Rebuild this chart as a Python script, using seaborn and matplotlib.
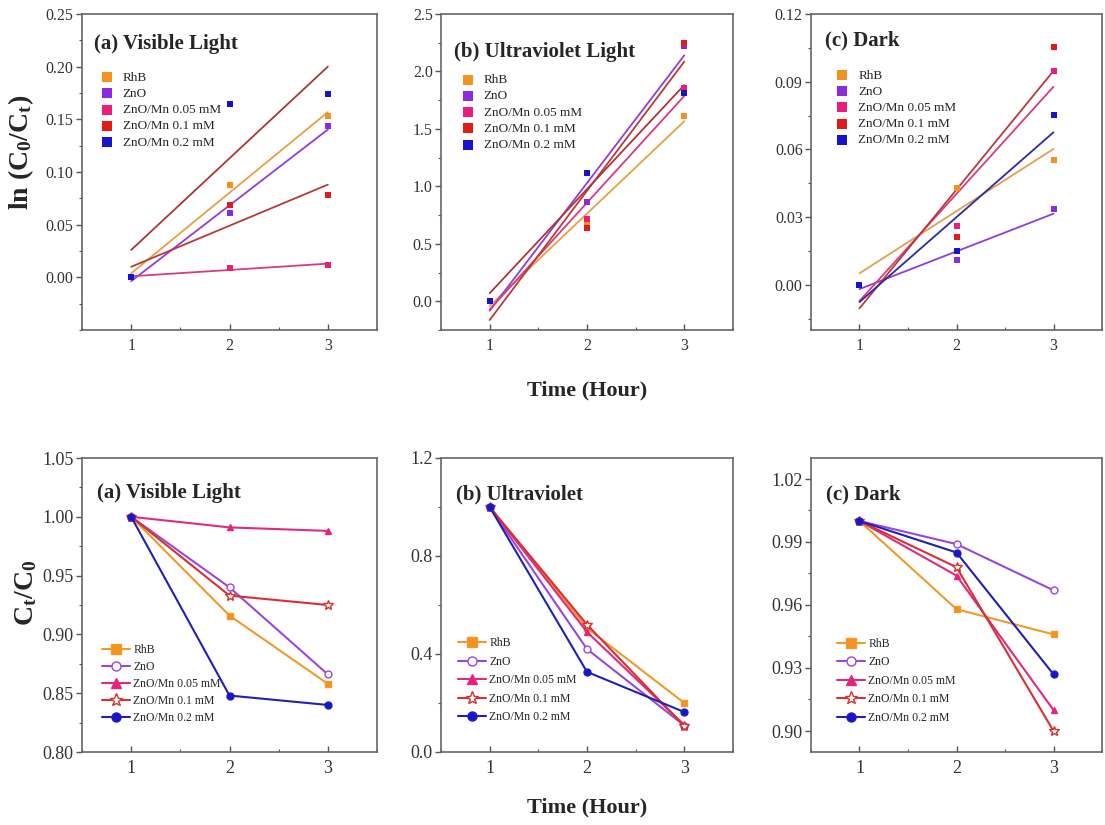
import numpy as np
import seaborn as sns
import matplotlib.pyplot as plt
from matplotlib.ticker import MultipleLocator, FormatStrFormatter

# Data
hours = [1, 2, 3]
series = ["RhB", "ZnO", "ZnO/Mn 0.05 mM", "ZnO/Mn 0.1 mM", "ZnO/Mn 0.2 mM"]

# ln(C0/Ct) - top row
ln_visible = [[0, 0.088, 0.153], [0, 0.061, 0.144], [0, 0.009, 0.012],
              [0, 0.069, 0.078], [0, 0.165, 0.174]]
ln_uv = [[0, 0.681, 1.608], [0, 0.865, 2.223], [0, 0.714, 1.859],
         [0, 0.635, 2.249], [0, 1.116, 1.812]]
ln_dark = [[0, 0.0429, 0.0551], [0, 0.0111, 0.0334], [0, 0.0261, 0.0949],
           [0, 0.0214, 0.1052], [0, 0.0148, 0.0752]]

# Ct/C0 - bottom row
ratio_visible = [[1, 0.916, 0.858], [1, 0.940, 0.866], [1, 0.991, 0.988],
                 [1, 0.933, 0.925], [1, 0.848, 0.840]]
ratio_uv = [[1, 0.506, 0.200], [1, 0.420, 0.108], [1, 0.490, 0.110],
            [1, 0.520, 0.105], [1, 0.327, 0.163]]
ratio_dark = [[1, 0.958, 0.946], [1, 0.989, 0.967], [1, 0.974, 0.910],
              [1, 0.978, 0.900], [1, 0.985, 0.927]]

# Styling
marker_colors = ["#F5921E", "#8A2BE2", "#EC1C7C", "#E31A1C", "#1515CF"]
fit_colors_ab = ["#E8A040", "#8E3FD6", "#DA3A80", "#B83A3A", "#B03434"]
fit_colors_c = ["#E0A050", "#8E3FD6", "#DA3A80", "#B83A3A", "#2A2AA8"]
line_colors = ["#F09A2A", "#9A48D8", "#E02A80", "#D83030", "#2020B8"]
marker_styles = [
    dict(marker="s", markerfacecolor="#F5921E"),
    dict(marker="o", markerfacecolor="white"),
    dict(marker="^", markerfacecolor="#EC1C7C"),
    dict(marker="*", markerfacecolor="white", markersize=7.5),
    dict(marker="o", markerfacecolor="#1515CF"),
]

sns.set_theme(style="ticks")
plt.rcParams["font.family"] = ["Liberation Serif", "DejaVu Serif"]
plt.rcParams["mathtext.fontset"] = "custom"
plt.rcParams["mathtext.rm"] = "Liberation Serif"
plt.rcParams["mathtext.bf"] = "Liberation Serif:bold"
plt.rcParams["mathtext.it"] = "Liberation Serif:italic"

W, H = 1105, 825
fig = plt.figure(figsize=(W / 100, H / 100), dpi=100)


def add_axes(left, right, top, bottom):
    return fig.add_axes([left / W, 1 - bottom / H, (right - left) / W, (bottom - top) / H])


cols = [(82, 377), (441, 733), (811, 1102)]


def style_axes(ax, ylim, yticks, fmt, labelsize):
    ax.set_xlim(0.5, 3.5)
    ax.set_ylim(*ylim)
    ax.set_xticks(hours)
    ax.xaxis.set_minor_locator(MultipleLocator(0.5))
    ax.set_yticks(yticks)
    ax.yaxis.set_minor_locator(MultipleLocator((yticks[1] - yticks[0]) / 2))
    ax.yaxis.set_major_formatter(FormatStrFormatter(fmt))
    ax.tick_params(axis="y", which="major", direction="out", length=4, width=1,
                   color="#555555", labelcolor="#333333", labelsize=labelsize, pad=2)
    ax.tick_params(axis="y", which="minor", direction="out", length=2, width=0.8, color="#555555")
    ax.tick_params(axis="x", which="major", direction="in", length=4, width=1,
                   color="#555555", labelcolor="#333333", labelsize=labelsize, pad=6)
    ax.tick_params(axis="x", which="minor", direction="in", length=2, width=0.8, color="#555555")
    for sp in ax.spines.values():
        sp.set_visible(True)
        sp.set_color("#666666")
        sp.set_linewidth(1.2)
    ax.set_xlabel("")
    ax.set_ylabel("")


# ---- Top row: ln(C0/Ct) with linear fits ----
top_panels = [
    (ln_visible, "(a) Visible Light", (-0.05, 0.25), np.arange(0, 0.26, 0.05), "%.2f",
     fit_colors_ab, (0.04, 0.905), (0.062, 0.818)),
    (ln_uv, "(b) Ultraviolet Light", (-0.25, 2.5), np.arange(0, 2.51, 0.5), "%.1f",
     fit_colors_ab, (0.045, 0.88), (0.07, 0.81)),
    (ln_dark, "(c) Dark", (-0.02, 0.12), np.arange(0, 0.121, 0.03), "%.2f",
     fit_colors_c, (0.048, 0.915), (0.085, 0.825)),
]

for (left, right), (vals, title, ylim, yticks, fmt, fcols, tpos, lpos) in zip(cols, top_panels):
    ax = add_axes(left, right, 14, 330)
    for i, name in enumerate(series):
        sns.regplot(x=hours, y=vals[i], ax=ax, ci=None, marker="s", label=name,
                    color=marker_colors[i], truncate=True,
                    scatter_kws=dict(s=20, linewidths=0, alpha=1, zorder=3),
                    line_kws=dict(color=fcols[i], lw=1.3, zorder=2))
    style_axes(ax, ylim, yticks, fmt, 11.5)
    ax.text(tpos[0], tpos[1], title, transform=ax.transAxes, fontsize=15,
            fontweight="bold", va="center", ha="left")
    ax.legend(loc="upper left", bbox_to_anchor=lpos, frameon=False, fontsize=9.5,
              borderpad=0, handlelength=1.0, handletextpad=0.7, labelspacing=0.3,
              markerscale=1.7, borderaxespad=0)

# ---- Bottom row: Ct/C0 ----
bottom_panels = [
    (ratio_visible, "(a) Visible Light", (0.80, 1.05), np.arange(0.80, 1.051, 0.05), "%.2f",
     (0.05, 0.88), (0.068, 0.367), 0.42),
    (ratio_uv, "(b) Ultraviolet", (0.0, 1.2), np.arange(0, 1.21, 0.4), "%.1f",
     (0.05, 0.875), (0.058, 0.39), 0.55),
    (ratio_dark, "(c) Dark", (0.89, 1.03), np.arange(0.90, 1.021, 0.03), "%.2f",
     (0.05, 0.875), (0.089, 0.388), 0.55),
]

for (left, right), (vals, title, ylim, yticks, fmt, tpos, lpos, lsp) in zip(cols, bottom_panels):
    ax = add_axes(left, right, 458, 752)
    for i, name in enumerate(series):
        kw = dict(markersize=5)
        kw.update(marker_styles[i])
        sns.lineplot(x=hours, y=vals[i], ax=ax, color=line_colors[i], lw=1.5,
                     markeredgecolor=line_colors[i], markeredgewidth=1.0,
                     label=name, **kw)
    style_axes(ax, ylim, yticks, fmt, 13)
    ax.text(tpos[0], tpos[1], title, transform=ax.transAxes, fontsize=15,
            fontweight="bold", va="center", ha="left")
    ax.legend(loc="upper left", bbox_to_anchor=lpos, frameon=False, fontsize=8.5,
              borderpad=0, handlelength=2.4, handletextpad=0.25, labelspacing=lsp,
              markerscale=1.3, borderaxespad=0)

# Shared labels
fig.text(587 / W, 1 - 390 / H, "Time (Hour)", ha="center", va="center",
         fontsize=16, fontweight="bold")
fig.text(587 / W, 1 - 807 / H, "Time (Hour)", ha="center", va="center",
         fontsize=16, fontweight="bold")
fig.text(21 / W, 1 - 152 / H, r"ln (C$_\mathbf{0}$/C$_\mathbf{t}$)", ha="center", va="center",
         rotation=90, fontsize=20, fontweight="bold")
fig.text(26 / W, 1 - 593 / H, r"C$_\mathbf{t}$/C$_\mathbf{0}$", ha="center", va="center",
         rotation=90, fontsize=20, fontweight="bold")

fig.savefig("out.png", dpi=100, facecolor="white")
